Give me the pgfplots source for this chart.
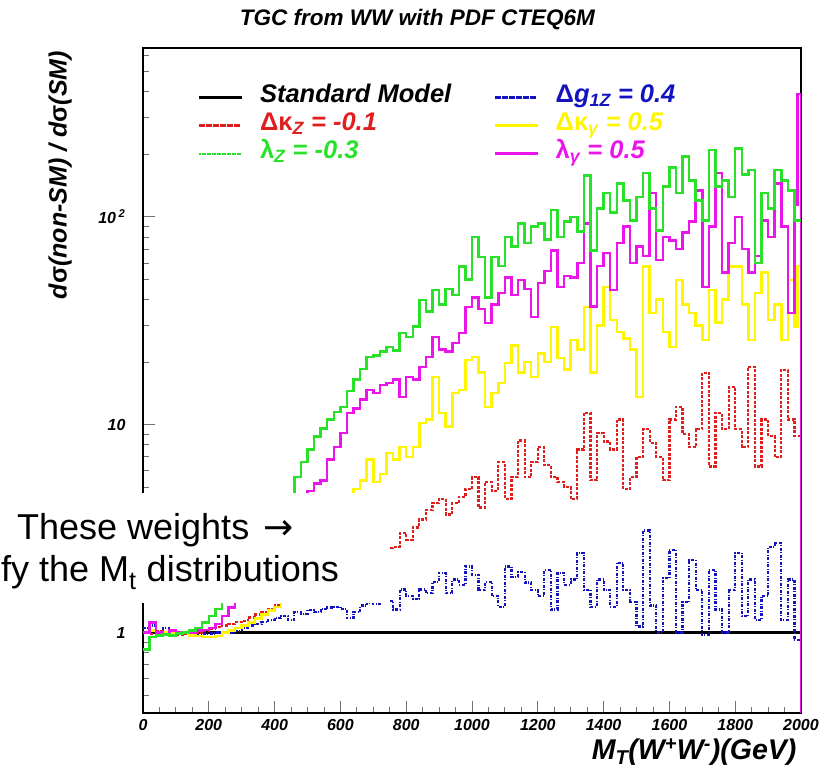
\documentclass[border=0pt]{standalone}
\usepackage{pgfplots}
\pgfplotsset{compat=1.18}
\usepackage{fontspec}
\setmainfont{Liberation Sans}
\newfontfamily\dejavu{DejaVu Sans}
\definecolor{cRed}{RGB}{225,30,30}
\definecolor{cGreen}{RGB}{40,225,40}
\definecolor{cBlue}{RGB}{20,20,190}
\definecolor{cYellow}{RGB}{255,245,0}
\definecolor{cMag}{RGB}{235,20,235}
\newcommand{\bi}{\bfseries\itshape}
\begin{document}
\begin{tikzpicture}
\useasboundingbox (0,0) rectangle (828pt,779pt);
\clip (0,0) rectangle (828pt,779pt);
\begin{axis}[
 at={(143pt,66pt)}, anchor=south west,
 width=658pt, height=665pt, scale only axis,
 xmin=0, xmax=2000, ymode=log, ymin=0.41, ymax=650,
 xtick={0,200,...,2000}, minor x tick num=3,
 ytick={1,10,100}, yticklabels={1,10,{10\,\textsuperscript{2}}},
 minor ytick={0.5,0.6,0.7,0.8,0.9,2,3,4,5,6,7,8,9,20,30,40,50,60,70,80,90,200,300,400,500,600},
 xtick pos=left, ytick pos=left, tick align=inside,
 major tick length=12pt, minor tick length=6pt,
 every tick/.style={black!55, line width=0.9pt},
 axis line style={line width=1.5pt},
 /pgf/number format/assume math mode=true,
 /pgf/number format/set thousands separator={},
 ticklabel style={font=\fontsize{16}{18}\selectfont\bi},
 xticklabel style={yshift=-3pt},
 yticklabel style={xshift=-14pt},
 every axis title shift=0pt,
 title={TGC from WW with PDF CTEQ6M},
 title style={font=\fontsize{22.5}{26}\selectfont\bi, at={(axis description cs:0.417,1.043)}, anchor=center, yshift=0pt},
 xlabel={M\textsubscript{T}(W\textsuperscript{+}W\textsuperscript{-})(GeV)},
 xlabel style={font=\fontsize{28.5}{32}\selectfont\bi, at={(axis description cs:0.9985,-0.059)}, anchor=east},
 ylabel={d{\upshape σ}(non-SM) / d{\upshape σ}(SM)},
 ylabel style={font=\fontsize{25}{28}\selectfont\bi, at={(axis description cs:-0.126,0.809)}, anchor=center},
 legend columns=2, legend cell align=left,
 legend style={at={(axis description cs:0.085,0.947)}, anchor=north west, draw=none, fill=none,
   font=\fontsize{25.5}{28}\selectfont\bi, inner sep=0pt,
   /tikz/every even column/.append style={column sep=42pt},
   /tikz/every odd column/.append style={column sep=17pt},
   nodes={text height=18pt, text depth=7pt, inner sep=1.5pt}},
]
\addplot[black, line width=2.2pt, forget plot] coordinates {(0,1)(2000,1)};
% Delta g1Z = 0.4 (blue)
\addplot[cBlue, line width=2.2pt, const plot, dash pattern=on 3pt off 1.5pt on 1pt off 1.5pt, forget plot] coordinates {
(0,1.05)(20,1.08)(40,1.02)(60,1.05)(80,1.03)(100,1.0)(120,1.0)(140,1.0)(160,0.98)(180,0.99)
(200,0.99)(220,1.0)(240,1.0)(260,1.0)(280,1.02)(300,1.05)(320,1.08)(340,1.1)(360,1.12)(380,1.15)
(400,1.17)(420,1.2)(440,1.15)(460,1.25)(480,1.23)(500,1.28)(520,1.25)(540,1.3)(560,1.32)(580,1.33)
(600,1.3)(620,1.17)(640,1.25)(660,1.35)(680,1.39)(700,1.38)(720,1.4)(740,1.42)(760,1.29)(780,1.61)
(800,1.5)(820,1.45)(840,1.61)(860,1.55)(880,1.75)(900,1.94)(920,1.55)(940,1.8)(960,1.7)(980,2.08)
(1000,1.9)(1020,1.6)(1040,1.75)(1060,1.5)(1080,1.33)(1100,2.08)(1120,1.85)(1140,1.95)(1160,1.74)(1180,1.6)
(1200,1.5)(1220,2.0)(1240,1.29)(1260,1.94)(1280,1.7)(1300,1.8)(1320,2.42)(1340,1.6)(1360,1.33)(1380,1.8)
(1400,1.6)(1420,1.33)(1440,2.17)(1460,1.6)(1480,1.4)(1500,1.07)(1520,3.1)(1540,1.35)(1560,1.0)(1580,1.83)
(1600,2.5)(1620,1.0)(1640,1.4)(1660,2.24)(1680,1.6)(1700,0.97)(1720,2.0)(1740,1.29)(1760,1.0)(1780,1.6)
(1800,2.42)(1820,1.2)(1840,1.8)(1860,1.15)(1880,1.5)(1900,2.59)(1920,2.7)(1940,1.15)(1960,1.8)(1980,0.92)
(2000,0.92)};
% Delta kappa Z = -0.1 (red)
\addplot[cRed, line width=2.2pt, const plot, dash pattern=on 3pt off 1.5pt, forget plot] coordinates {
(0,1.0)(20,0.98)(40,1.02)(60,0.97)(80,0.96)(100,0.97)(120,0.98)(140,1.0)(160,1.0)(180,1.02)
(200,1.04)(220,1.06)(240,1.08)(260,1.1)(280,1.12)(300,1.14)(320,1.18)(340,1.22)(360,1.26)(380,1.3)
(400,1.35)(420,1.42)(440,1.5)(460,1.56)(480,1.62)(500,1.68)(520,1.75)(540,1.82)(560,1.9)(580,1.98)
(600,2.05)(620,2.12)(640,2.2)(660,2.3)(680,2.38)(700,2.45)(720,2.5)(740,2.55)(760,2.59)(780,3.0)
(800,2.8)(820,3.2)(840,3.5)(860,3.9)(880,4.2)(900,4.4)(920,3.7)(940,4.2)(960,4.5)(980,4.9)
(1000,5.6)(1020,4.0)(1040,5.3)(1060,4.8)(1080,6.6)(1100,4.4)(1120,5.6)(1140,8.4)(1160,5.6)(1180,6.6)
(1200,7.8)(1220,6.4)(1240,5.6)(1260,5.3)(1280,5.0)(1300,4.4)(1320,7.6)(1340,11.4)(1360,5.4)(1380,9.1)
(1400,8.3)(1420,7.6)(1440,10.6)(1460,4.9)(1480,5.6)(1500,7.0)(1520,9.5)(1540,8.2)(1560,7.0)(1580,5.4)
(1600,10.6)(1620,12.2)(1640,9.0)(1660,7.8)(1680,9.5)(1700,17.8)(1720,6.3)(1740,11.4)(1760,9.5)(1780,15.2)
(1800,9.5)(1820,7.8)(1840,19)(1860,6.3)(1880,10.6)(1900,8.8)(1920,7.0)(1940,18.4)(1960,10.6)(1980,8.8)
(2000,8.8)};
% Delta kappa gamma = 0.5 (yellow)
\addplot[cYellow, line width=2.5pt, const plot, forget plot] coordinates {
(0,1.0)(20,1.02)(40,0.98)(60,1.0)(80,1.0)(100,1.0)(120,1.0)(140,0.97)(160,0.96)(180,0.95)
(200,0.95)(220,0.96)(240,1.0)(260,1.02)(280,1.05)(300,1.08)(320,1.12)(340,1.17)(360,1.22)(380,1.28)
(400,1.33)(420,1.42)(440,1.55)(460,1.7)(480,1.9)(500,2.1)(520,2.35)(540,2.6)(560,2.9)(580,3.3)
(600,3.8)(620,4.4)(640,4.9)(660,5.4)(680,6.8)(700,5.3)(720,5.8)(740,7.3)(760,6.8)(780,7.8)
(800,7.0)(820,7.8)(840,10.2)(860,10.6)(880,17)(900,11.4)(920,9.8)(940,14.2)(960,14.7)(980,20.5)
(1000,21.2)(1020,17.8)(1040,12.2)(1060,14.2)(1080,15.9)(1100,19.8)(1120,24)(1140,17.8)(1160,20)(1180,17)
(1200,22)(1220,20)(1240,29.5)(1260,21)(1280,18.4)(1300,25.6)(1320,23)(1340,36.8)(1360,17.8)(1380,30)
(1400,46)(1420,32)(1440,28)(1460,26)(1480,23)(1500,13.6)(1520,57.6)(1540,34.5)(1560,40)(1580,28)
(1600,23.7)(1620,49.7)(1640,38)(1660,34.5)(1680,30)(1700,25.6)(1720,44.5)(1740,31)(1760,40)(1780,57.6)
(1800,57.6)(1820,38)(1840,25.6)(1860,43)(1880,54)(1900,32)(1920,38)(1940,25.6)(1960,49.7)(1980,29.5)
(1990,58)(2000,58)};
% lambda gamma = 0.5 (magenta)
\addplot[cMag, line width=2.5pt, const plot, forget plot] coordinates {
(0,1.0)(20,1.12)(40,1.0)(60,0.98)(80,1.02)(100,1.0)(120,1.0)(140,1.0)(160,1.02)(180,1.03)
(200,1.05)(220,1.1)(240,1.2)(260,1.32)(280,1.45)(300,1.6)(320,1.75)(340,1.95)(360,2.2)(380,2.45)
(400,2.75)(420,3.1)(440,3.5)(460,4.0)(480,4.4)(500,4.8)(520,5.2)(540,5.4)(560,6.8)(580,7.8)
(600,9.1)(620,11.4)(640,12)(660,13.2)(680,14.7)(700,14.2)(720,15.5)(740,15.9)(760,16.5)(780,13.6)
(800,17.0)(820,16.5)(840,19)(860,21.2)(880,26.5)(900,23)(920,22.5)(940,24.7)(960,27.6)(980,36.8)
(1000,41)(1020,36)(1040,30.9)(1060,38)(1080,43)(1100,51)(1120,42)(1140,49.7)(1160,45)(1180,33)
(1200,48)(1220,55)(1240,69)(1260,46)(1280,52)(1300,51)(1320,60)(1340,93)(1360,37)(1380,58)
(1400,67)(1420,44.5)(1440,75)(1460,90)(1480,60)(1500,72)(1520,65)(1540,130)(1560,62)(1580,80)
(1600,77)(1620,70)(1640,84)(1660,95)(1680,134)(1700,46)(1720,90)(1740,163)(1760,54)(1780,75)
(1800,100)(1820,70)(1840,54)(1860,65)(1880,96)(1900,80)(1920,145)(1940,90)(1960,34.5)(1980,115)
(1990,390)(2000,0.41)};
% lambda Z = -0.3 (green)
\addplot[cGreen, line width=2.5pt, const plot, forget plot] coordinates {
(0,0.83)(20,0.95)(40,0.97)(60,0.98)(80,0.97)(100,0.99)(120,1.0)(140,1.02)(160,1.05)(180,1.12)
(200,1.2)(220,1.3)(240,1.42)(260,1.55)(280,1.7)(300,1.9)(320,2.1)(340,2.4)(360,2.7)(380,3.0)
(400,3.4)(420,3.9)(440,4.6)(460,5.6)(480,6.6)(500,7.6)(520,8.8)(540,9.6)(560,10.6)(580,11.5)
(600,12.2)(620,14.5)(640,16.5)(660,18.5)(680,21.2)(700,21.5)(720,22.5)(740,23.7)(760,22.8)(780,27.6)
(800,26.5)(820,29.7)(840,39.8)(860,35)(880,44.5)(900,38)(920,45)(940,42)(960,57.6)(980,50)
(1000,80)(1020,64)(1040,41)(1060,64)(1080,58)(1100,80)(1120,72)(1140,93)(1160,75)(1180,90)
(1200,93)(1220,78)(1240,108)(1260,80)(1280,95)(1300,100)(1320,85)(1340,158)(1360,69)(1380,110)
(1400,130)(1420,105)(1440,145)(1460,120)(1480,96)(1500,125)(1520,163)(1540,110)(1560,86)(1580,140)
(1600,173)(1620,130)(1640,195)(1660,150)(1680,120)(1700,96)(1720,210)(1740,140)(1760,150)(1780,125)
(1800,214)(1820,160)(1840,168)(1860,60)(1880,130)(1900,110)(1920,168)(1940,150)(1960,134)(1980,96)
(2000,96)};
\addlegendimage{legend image code/.code={\fill[black] (0pt,-0.8pt) rectangle (42pt,0.8pt);}}
\addlegendentry{Standard Model}
\addlegendimage{legend image code/.code={\foreach \s in {0,7,...,35}{\fill[cBlue] (\s pt,-1pt) rectangle ++(3pt,2pt); \fill[cBlue] (\s pt+4.5pt,-1pt) rectangle ++(1.2pt,2pt);}}}
\addlegendentry{\textcolor{cBlue}{{\upshape Δ}g\textsubscript{1Z} = 0.4}}
\addlegendimage{legend image code/.code={\foreach \s in {0,7,...,35}{\fill[cRed] (\s pt,-0.9pt) rectangle ++(4.5pt,1.8pt);}}}
\addlegendentry{\textcolor{cRed}{{\upshape Δκ}\textsubscript{Z} = -0.1}}
\addlegendimage{legend image code/.code={\fill[cYellow] (0pt,-1pt) rectangle (42pt,1pt);}}
\addlegendentry{\textcolor{cYellow}{{\upshape Δκ}\textsubscript{γ} = 0.5}}
\addlegendimage{legend image code/.code={\foreach \s in {0,2.5,...,40}{\fill[cGreen] (\s pt,-0.7pt) rectangle ++(1.3pt,1.4pt);}}}
\addlegendentry{\textcolor{cGreen}{{\upshape λ}\textsubscript{Z} = -0.3}}
\addlegendimage{legend image code/.code={\fill[cMag] (0pt,-1pt) rectangle (42pt,1pt);}}
\addlegendentry{\textcolor{cMag}{{\upshape λ}\textsubscript{γ} = 0.5}}
\end{axis}
\fill[white] (0pt,176pt) rectangle (390pt,286pt);
\node[anchor=base west, inner sep=0pt, font=\fontsize{36}{40}\selectfont] at (17pt,239pt) {These weights\hspace{14pt}{\dejavu →}};
\node[anchor=base west, inner sep=0pt, font=\fontsize{36}{40}\selectfont] at (1pt,197pt) {fy the M\textsubscript{t} distributions};
\end{tikzpicture}
\end{document}
